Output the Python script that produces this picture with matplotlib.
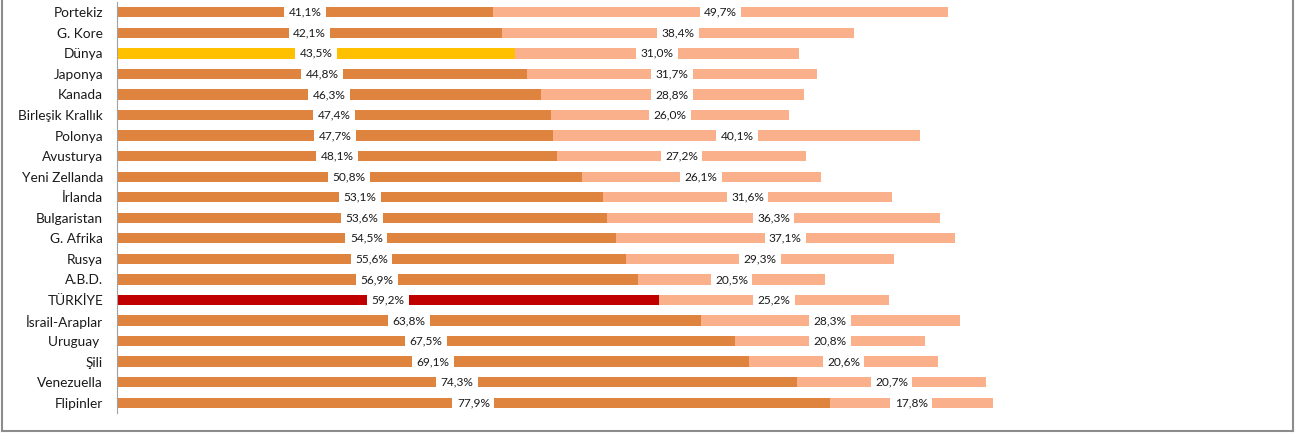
import matplotlib.pyplot as plt
from matplotlib.lines import Line2D

plt.rcParams['font.family'] = ['Lato', 'DejaVu Sans']

#veriler
ulkeler = ['Portekiz', 'G. Kore', 'Dünya', 'Japonya', 'Kanada', 'Birleşik Krallık',
           'Polonya', 'Avusturya', 'Yeni Zellanda', 'İrlanda', 'Bulgaristan',
           'G. Afrika', 'Rusya', 'A.B.D.', 'TÜRKİYE', 'İsrail-Araplar',
           'Uruguay ', 'Şili', 'Venezuella', 'Flipinler']
seri1 = [41.1, 42.1, 43.5, 44.8, 46.3, 47.4, 47.7, 48.1, 50.8, 53.1,
         53.6, 54.5, 55.6, 56.9, 59.2, 63.8, 67.5, 69.1, 74.3, 77.9]
seri2 = [49.7, 38.4, 31.0, 31.7, 28.8, 26.0, 40.1, 27.2, 26.1, 31.6,
         36.3, 37.1, 29.3, 20.5, 25.2, 28.3, 20.8, 20.6, 20.7, 17.8]

koyu = '#DE843E'
acik = '#F9B08B'
renkler1 = []
for u in ulkeler:
    if u == 'Dünya':
        renkler1.append('#FFC000')
    elif u == 'TÜRKİYE':
        renkler1.append('#C00000')
    else:
        renkler1.append(koyu)

W, H = 1295, 433
fig = plt.figure(figsize=(W / 100, H / 100), dpi=100)
ax = fig.add_axes([117 / W, (H - 413) / H, (1032 - 117) / W, (413 - 2) / H])

y = list(range(len(ulkeler)))
ax.barh(y, seri1, height=0.5, color=renkler1)
ax.barh(y, seri2, left=seri1, height=0.5, color=acik)

def etiket(v):
    return f'{v:.1f}%'.replace('.', ',')

for i in y:
    ax.text(seri1[i] / 2, i, etiket(seri1[i]), ha='center', va='center', fontsize=8.6,
            color='#1A1A1A', bbox=dict(facecolor='white', edgecolor='none', pad=3.2))
    ax.text(seri1[i] + seri2[i] / 2, i, etiket(seri2[i]), ha='center', va='center',
            fontsize=8.6, color='#1A1A1A',
            bbox=dict(facecolor='white', edgecolor='none', pad=3.2))

ax.set_xlim(0, 100)
ax.set_ylim(len(ulkeler) - 0.5, -0.5)
ax.set_yticks(y)
ax.set_yticklabels(ulkeler, fontsize=9.8, color='#1A1A1A')
ax.tick_params(axis='y', length=0, pad=10)
ax.set_xticks([])
for s in ['top', 'right', 'bottom']:
    ax.spines[s].set_visible(False)
ax.spines['left'].set_color('#A0A0A0')
ax.spines['left'].set_linewidth(0.8)

#cerceve
gri = '#8C8C8C'
fig.add_artist(Line2D([2 / W, 2 / W], [2 / H, 1], color=gri, lw=1.5))
fig.add_artist(Line2D([1293 / W, 1293 / W], [2 / H, 1], color=gri, lw=1.5))
fig.add_artist(Line2D([2 / W, 1293 / W], [2 / H, 2 / H], color=gri, lw=1.5))

fig.savefig('out.png', dpi=100, facecolor='white')
